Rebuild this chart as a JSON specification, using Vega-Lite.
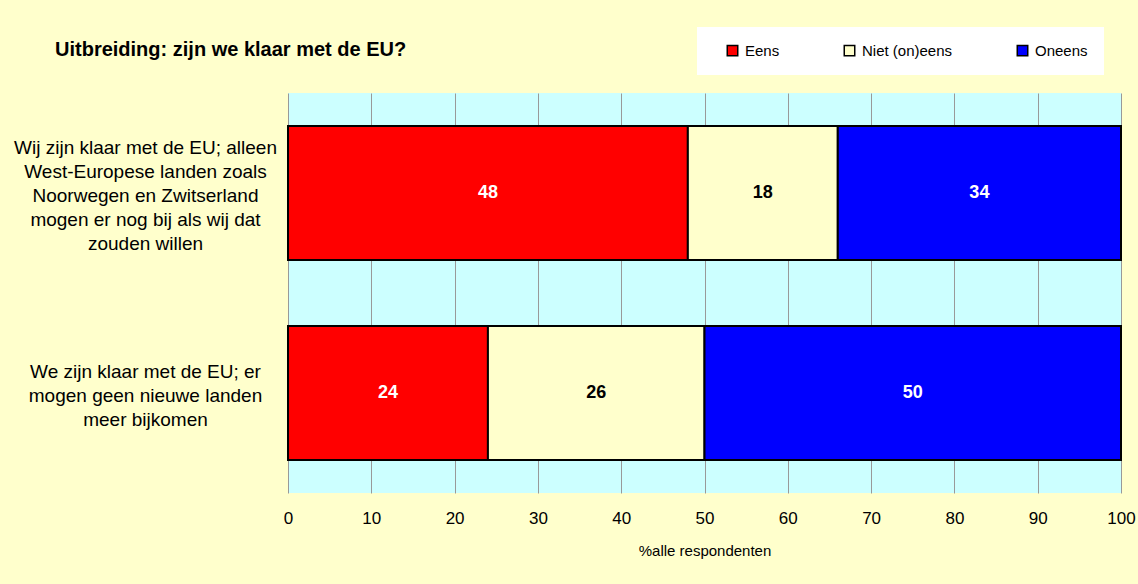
{
  "$schema": "https://vega.github.io/schema/vega-lite/v6.json",
  "autosize": {"type": "none"},
  "padding": {"left": 288, "top": 93, "right": 17, "bottom": 91},
  "width": 833,
  "height": 400,
  "background": "#FFFFCC",
  "title": {
    "text": "Uitbreiding: zijn we klaar met de EU?",
    "anchor": "start",
    "frame": "group",
    "dx": -233,
    "dy": 66,
    "offset": 33,
    "font": "Liberation Sans",
    "fontSize": 20,
    "fontWeight": "bold",
    "color": "#000000"
  },
  "config": {
    "view": {"fill": "#CCFFFF", "stroke": null},
    "font": "Liberation Sans"
  },
  "data": {
    "values": [
      {"vraag": "Wij zijn klaar met de EU; alleen|West-Europese landen zoals|Noorwegen en Zwitserland|mogen er nog bij als wij dat|zouden willen", "antwoord": "Eens", "volgorde": 1, "pct": 48},
      {"vraag": "Wij zijn klaar met de EU; alleen|West-Europese landen zoals|Noorwegen en Zwitserland|mogen er nog bij als wij dat|zouden willen", "antwoord": "Niet (on)eens", "volgorde": 2, "pct": 18},
      {"vraag": "Wij zijn klaar met de EU; alleen|West-Europese landen zoals|Noorwegen en Zwitserland|mogen er nog bij als wij dat|zouden willen", "antwoord": "Oneens", "volgorde": 3, "pct": 34},
      {"vraag": "We zijn klaar met de EU; er|mogen geen nieuwe landen|meer bijkomen", "antwoord": "Eens", "volgorde": 1, "pct": 24},
      {"vraag": "We zijn klaar met de EU; er|mogen geen nieuwe landen|meer bijkomen", "antwoord": "Niet (on)eens", "volgorde": 2, "pct": 26},
      {"vraag": "We zijn klaar met de EU; er|mogen geen nieuwe landen|meer bijkomen", "antwoord": "Oneens", "volgorde": 3, "pct": 50}
    ]
  },
  "encoding": {
    "y": {
      "field": "vraag",
      "type": "nominal",
      "sort": null,
      "scale": {"paddingInner": 0.33, "paddingOuter": 0.165},
      "axis": {
        "title": null,
        "ticks": false,
        "domain": false,
        "grid": false,
        "labelExpr": "split(datum.label, '|')",
        "labelAlign": "center",
        "labelBaseline": "middle",
        "labelPadding": 143,
        "labelOffset": {"condition": {"test": "indexof(datum.value, 'Wij') === 0", "value": -45}, "value": -21},
        "labelFontSize": 19,
        "labelLineHeight": 24,
        "labelColor": "#000000",
        "labelLimit": 400,
        "labelFont": "Liberation Sans"
      }
    },
    "order": {"field": "volgorde", "type": "quantitative"}
  },
  "layer": [
    {
      "mark": {"type": "bar", "stroke": "#000000", "strokeWidth": 2},
      "encoding": {
        "x": {
          "field": "pct",
          "type": "quantitative",
          "stack": "zero",
          "scale": {"domain": [0, 100], "nice": false},
          "axis": {
            "title": "%alle respondenten",
            "titleFontSize": 15,
            "titleFontWeight": "normal",
            "titleColor": "#000000",
            "titlePadding": 17,
            "titleFont": "Liberation Sans",
            "values": [0, 10, 20, 30, 40, 50, 60, 70, 80, 90, 100],
            "grid": true,
            "gridColor": "#999999",
            "gridOpacity": 1,
            "gridWidth": 1,
            "domain": false,
            "ticks": false,
            "labelFlush": false,
            "labelPadding": 17,
            "labelFontSize": 17,
            "labelColor": "#000000",
            "labelFont": "Liberation Sans"
          }
        },
        "color": {
          "field": "antwoord",
          "type": "nominal",
          "scale": {"domain": ["Eens", "Niet (on)eens", "Oneens"], "range": ["#FF0000", "#FFFFCC", "#0000FF"]},
          "legend": {
            "title": null,
            "orient": "none",
            "direction": "horizontal",
            "legendX": 409,
            "legendY": -66,
            "fillColor": "#FFFFFF",
            "padding": 16,
            "symbolOffset": 12,
            "columnPadding": 50,
            "symbolType": "square",
            "symbolSize": 110,
            "symbolStrokeColor": "#000000",
            "symbolStrokeWidth": 1.5,
            "symbolOpacity": 1,
            "labelFontSize": 15,
            "labelColor": "#000000",
            "labelFont": "Liberation Sans",
            "labelOffset": 5
          }
        }
      }
    },
    {
      "mark": {"type": "text", "fontSize": 18, "fontWeight": "bold", "baseline": "middle", "align": "center", "font": "Liberation Sans"},
      "encoding": {
        "x": {"field": "pct", "type": "quantitative", "stack": "zero", "bandPosition": 0.5},
        "detail": {"field": "antwoord", "type": "nominal"},
        "text": {"field": "pct", "type": "quantitative"},
        "color": {
          "condition": {"test": "datum.antwoord === 'Niet (on)eens'", "value": "#000000"},
          "value": "#FFFFFF"
        }
      }
    }
  ]
}
